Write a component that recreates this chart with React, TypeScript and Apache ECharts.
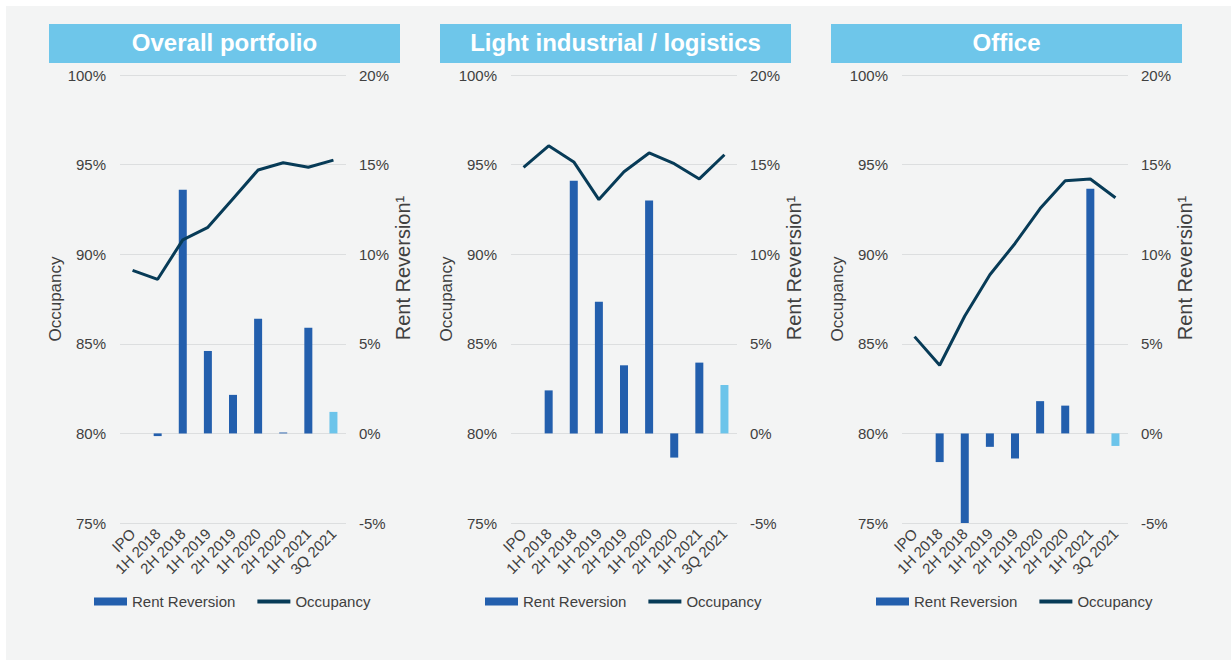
import React, { useEffect, useRef } from "react";
import * as echarts from "echarts";

const categories = ["IPO", "1H 2018", "2H 2018", "1H 2019", "2H 2019", "1H 2020", "2H 2020", "1H 2021", "3Q 2021"];

const panelTitles = ["Overall portfolio", "Light industrial / logistics", "Office"];

const overallReversion = [null, -0.15, 13.6, 4.6, 2.15, 6.4, 0.05, 5.9, 1.2];
const overallOccupancy = [89.1, 88.6, 90.8, 91.5, 93.1, 94.7, 95.1, 94.85, 95.25];

const industrialReversion = [null, 2.4, 14.1, 7.35, 3.8, 13.0, -1.35, 3.95, 2.7];
const industrialOccupancy = [94.85, 96.05, 95.15, 93.05, 94.6, 95.65, 95.05, 94.2, 95.55];

const officeReversion = [null, -1.6, -5.0, -0.75, -1.4, 1.8, 1.55, 13.65, -0.7];
const officeOccupancy = [85.4, 83.8, 86.55, 88.85, 90.6, 92.55, 94.1, 94.2, 93.15];

const occupancyTicks = { min: 75, max: 100, interval: 5 };
const reversionTicks = { min: -5, max: 20, interval: 5 };

const panels = [
  { title: panelTitles[0], reversion: overallReversion, occupancy: overallOccupancy },
  { title: panelTitles[1], reversion: industrialReversion, occupancy: industrialOccupancy },
  { title: panelTitles[2], reversion: officeReversion, occupancy: officeOccupancy },
];

const FONT = "Liberation Sans, Arial, sans-serif";
const TEXT = "#404040";
const BAR = "#235fad";
const BAR_LIGHT = "#6cc4ea";
const LINE = "#073b57";
const GRID = "#dcdedf";

export default function App() {
  const ref = useRef<HTMLDivElement>(null);

  useEffect(() => {
    if (!ref.current) return;
    const chart = echarts.init(ref.current, undefined, { renderer: "svg" });

    const gridLeft0 = 120;
    const gridW = 226;
    const step = 391;

    const grids: any[] = [];
    const xAxes: any[] = [];
    const yAxes: any[] = [];
    const series: any[] = [];
    const legends: any[] = [];
    const graphics: any[] = [];

    panels.forEach((p, i) => {
      const left = gridLeft0 + i * step;
      grids.push({ left, top: 75, width: gridW, height: 448 });
      xAxes.push({
        type: "category",
        gridIndex: i,
        data: categories,
        axisLine: { show: false },
        axisTick: { show: false },
        axisLabel: { rotate: 45, fontSize: 15, color: TEXT, fontFamily: FONT, margin: 8, interval: 0 },
      });
      yAxes.push({
        type: "value",
        gridIndex: i,
        position: "left",
        ...occupancyTicks,
        name: "Occupancy",
        nameLocation: "middle",
        nameGap: 56,
        nameTextStyle: { fontSize: 17, color: TEXT, fontFamily: FONT },
        axisLabel: { formatter: "{value}%", fontSize: 15, color: TEXT, fontFamily: FONT, margin: 14 },
        axisLine: { show: false },
        axisTick: { show: false },
        splitLine: { lineStyle: { color: GRID, width: 1 } },
      });
      yAxes.push({
        type: "value",
        gridIndex: i,
        position: "right",
        ...reversionTicks,
        name: "Rent Reversion¹",
        nameLocation: "middle",
        nameRotate: 90,
        nameGap: 47,
        nameTextStyle: { fontSize: 20, color: TEXT, fontFamily: FONT, padding: [0, 0, 0, 62] },
        axisLabel: { formatter: "{value}%", fontSize: 15, color: TEXT, fontFamily: FONT, margin: 13 },
        axisLine: { show: false },
        axisTick: { show: false },
        splitLine: { show: false },
      });
      series.push({
        type: "bar",
        name: "Rent Reversion",
        xAxisIndex: i,
        yAxisIndex: i * 2 + 1,
        barWidth: 8,
        itemStyle: { color: BAR },
        data: p.reversion.map((v, k) =>
          k === categories.length - 1 ? { value: v, itemStyle: { color: BAR_LIGHT } } : v
        ),
      });
      series.push({
        type: "line",
        name: "Occupancy",
        xAxisIndex: i,
        yAxisIndex: i * 2,
        symbol: "none",
        lineStyle: { color: LINE, width: 3 },
        itemStyle: { color: LINE },
        data: p.occupancy,
      });
      legends.push({
        left: left + gridW / 2 - 144,
        top: 589,
        itemWidth: 33,
        itemHeight: 8,
        itemGap: 20,
        textStyle: { fontSize: 15, color: TEXT, fontFamily: FONT },
        data: [
          { name: "Rent Reversion", icon: "rect", itemStyle: { color: BAR } },
          {
            name: "Occupancy",
            itemStyle: { color: "rgba(0,0,0,0)", borderWidth: 0 },
            lineStyle: { color: LINE, width: 4 },
          },
        ],
        selectedMode: false,
      });
      const bx = 49 + i * step;
      graphics.push({
        type: "rect",
        shape: { x: bx, y: 24, width: 351, height: 39 },
        style: { fill: "#6ec6ea" },
      });
      graphics.push({
        type: "text",
        x: bx + 175.5,
        y: 42.5,
        style: {
          text: p.title,
          fill: "#ffffff",
          font: `bold 24px ${FONT}`,
          align: "center",
          verticalAlign: "middle",
        },
      });
    });

    chart.setOption({
      animation: false,
      backgroundColor: "transparent",
      grid: grids,
      xAxis: xAxes,
      yAxis: yAxes,
      series,
      legend: legends,
      graphic: graphics,
      tooltip: { show: false },
    });

    return () => chart.dispose();
  }, []);

  return (
    <div style={{ position: "absolute", left: 0, top: 0, width: 1231, height: 660, background: "#ffffff" }}>
      <div style={{ position: "absolute", left: 6, top: 6, width: 1225, height: 654, background: "#f3f4f4" }} />
      <div ref={ref} style={{ position: "absolute", left: 0, top: 0, width: 1231, height: 660 }} />
    </div>
  );
}
